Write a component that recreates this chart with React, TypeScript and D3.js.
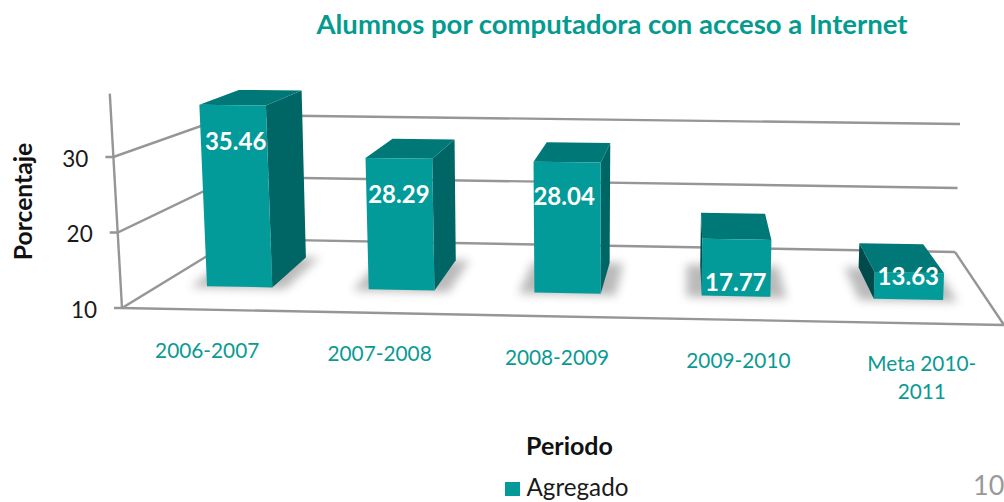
import React from "react";
import * as d3 from "d3";

const categories = ["2006-2007", "2007-2008", "2008-2009", "2009-2010", "Meta 2010-2011"];
const categoryLines = [["2006-2007"], ["2007-2008"], ["2008-2009"], ["2009-2010"], ["Meta 2010-", "2011"]];
const values = [35.46, 28.29, 28.04, 17.77, 13.63];
const valueTicks = [10, 20, 30];
const axisTop = 38.4;
const title = "Alumnos por computadora con acceso a Internet";
const yTitle = "Porcentaje";
const xTitle = "Periodo";
const legendLabel = "Agregado";
const pageNumber = "10";

const W = 1004, H = 502;
const TEAL = "#039a9a", SIDE = "#006565", TOP = "#007878", LEFT = "#004a4c", GRID = "#969696";
const FONT = "Lato, 'Open Sans', sans-serif";

// floor corners
const FL = [122, 308], FR = [1004, 325], BL = [235, 239], BR = [955, 252];
// per-value lean and rise at the floor corners
const leanF = [-0.43, 0.31], leanB = [-0.15, 0.25];
const riseF = [7.55, 7.9], riseB = [6.2, 6.4];
const D_FRONT = 0.33, D_BACK = 0.68;
const depthY = d3.scaleLinear().domain([0, D_FRONT, D_BACK, 1]).range([0, D_FRONT, 0.76, 1]);
const lerp = (a: number, b: number, t: number) => a + (b - a) * t;

const uScale = d3.scaleBand<string>().domain(categories).range([0, 1]).paddingInner(0.6).paddingOuter(0.3);
const valueK = d3.scaleLinear().domain([10, 40]).range([0, 30]);

// perspective correction of the bars along the floor, front row and back row
const bendKnots = [0, 0.06, 0.14, 0.26, 0.34, 0.46, 0.54, 0.66, 0.74, 0.86, 0.94, 1];
const bendFront = d3.scaleLinear().domain(bendKnots).range([0, -2, -3, -6, -6.5, -6, -6, -4.5, -2, 2, 5, 0]);
const bendBack = d3.scaleLinear().domain(bendKnots).range([0, -1, -1, -5, -5.5, -7, -6, -8, -6, -4, -2, 0]);

function project(u: number, d: number, v: number): [number, number] {
  const dy = depthY(d);
  const fx = lerp(FL[0], FR[0], u), bx = lerp(BL[0], BR[0], u);
  const fy = lerp(FL[1], FR[1], u), by = lerp(BL[1], BR[1], u);
  const k = valueK(v);
  const lean = lerp(lerp(leanF[0], leanF[1], u), lerp(leanB[0], leanB[1], u), d);
  const rise = lerp(lerp(riseF[0], riseF[1], u), lerp(riseB[0], riseB[1], u), dy);
  return [lerp(fx, bx, d) + k * lean, lerp(fy, by, dy) - k * rise];
}
function barPoint(u: number, d: number, v: number): [number, number] {
  const [x, y] = project(u, d, v);
  const t = (d - D_FRONT) / (D_BACK - D_FRONT);
  return [x + lerp(bendFront(u), bendBack(u), t), y];
}

const closed = d3.line().curve(d3.curveLinearClosed);
const open = d3.line();

const labelNudge = [[3, 36], [0, 36], [-3, 34], [-1, 43], [-1, 4]];
const catNudge = [-3, -7, -6, -1, 6];

export default function App() {
  const band = uScale.bandwidth();
  const shadowPad = 0.018;
  return (
    <svg width={W} height={H} viewBox={`0 0 ${W} ${H}`}
      style={{ position: "absolute", left: 0, top: 0, display: "block", background: "#fff" }} fontFamily={FONT}>
      <defs>
        <filter id="soft" x="-30%" y="-30%" width="160%" height="160%">
          <feGaussianBlur stdDeviation="5" />
        </filter>
      </defs>

      <text x={612} y={34} textAnchor="middle" fontSize={27.5} fontWeight={700} fill="#039a8f">{title}</text>

      {/* walls and floor */}
      <g fill="none" stroke={GRID} strokeWidth={2.4}>
        <path d={open([project(0, 0, 10), project(0, 0, axisTop)])!} />
        {valueTicks.map(t => (
          <g key={t}>
            <path d={open([[project(0, 0, t)[0] - 8, project(0, 0, t)[1]], project(0, 0, t), project(0, 1, t), project(1, 1, t)])!} />
          </g>
        ))}
        <path d={open([project(0, 0, 10), project(1, 0, 10), project(1, 1, 10)])!} />
      </g>

      {valueTicks.map(t => (
        <text key={t} x={project(0, 0, t)[0] - 25} y={project(0, 0, t)[1] + 9.5} textAnchor="end" fontSize={22.5} fill="#1a1a1a">{t}</text>
      ))}
      <text transform="translate(31.5,201.5) rotate(-90)" textAnchor="middle" fontSize={24.7} fontWeight={700} fill="#111">{yTitle}</text>

      {/* bars */}
      {categories.map((c, i) => {
        const u0 = uScale(c)!, u1 = u0 + band, v = values[i];
        const fl0 = barPoint(u0, D_FRONT, 10), fr0 = barPoint(u1, D_FRONT, 10);
        const bl0 = barPoint(u0, D_BACK, 10), br0 = barPoint(u1, D_BACK, 10);
        const fl = barPoint(u0, D_FRONT, v), fr = barPoint(u1, D_FRONT, v);
        const bl = barPoint(u0, D_BACK, v), br = barPoint(u1, D_BACK, v);
        const shadow = [
          barPoint(u0 - shadowPad, D_FRONT - 0.02, 10), barPoint(u1 + shadowPad, D_FRONT - 0.02, 10),
          barPoint(u1 + shadowPad, D_BACK, 10), barPoint(u0 - shadowPad, D_BACK, 10),
        ] as [number, number][];
        return (
          <g key={c}>
            <path d={closed(shadow)!} fill="#666" opacity={0.45} filter="url(#soft)" />
            {br[0] > fr[0] && <path d={closed([fr, br, br0, fr0])!} fill={SIDE} />}
            {bl[0] < fl[0] && <path d={closed([fl, bl, bl0, fl0])!} fill={LEFT} />}
            <path d={closed([fl, fr, br, bl])!} fill={TOP} />
            <path d={closed([fl, fr, fr0, fl0])!} fill={TEAL} />
            <text x={(fl[0] + fr[0]) / 2 + labelNudge[i][0]} y={(fl[1] + fr[1]) / 2 + labelNudge[i][1] + 8.5}
              textAnchor="middle" fontSize={24} fontWeight={700} fill="#fff">{v.toFixed(2)}</text>
          </g>
        );
      })}

      {/* category labels */}
      {categories.map((c, i) => {
        const [x, y] = project(uScale(c)! + band / 2, 0, 10);
        return (
          <text key={c} textAnchor="middle" fontSize={20.8} fill="#0a9a93">
            {categoryLines[i].map((l, j) => (
              <tspan key={l} x={x + catNudge[i]} y={y + 48 + j * 28}>{l}</tspan>
            ))}
          </text>
        );
      })}

      <text x={569.5} y={455} textAnchor="middle" fontSize={25} fontWeight={700} fill="#111">{xTitle}</text>
      <rect x={505} y={482} width={15} height={14} fill={TEAL} />
      <text x={526.5} y={496} fontSize={24.2} fill="#1a1a1a">{legendLabel}</text>
      <text x={973} y={495} fontSize={27} fill="#999">{pageNumber}</text>
    </svg>
  );
}
